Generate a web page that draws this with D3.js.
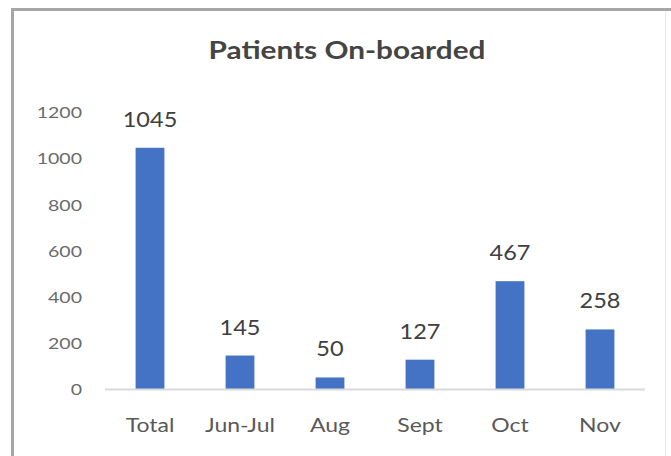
<!DOCTYPE html>
<html><head><meta charset="utf-8">
<script src="https://cdn.jsdelivr.net/npm/d3@7"></script>
<style>html,body{margin:0;padding:0;background:#fff;}</style>
</head><body>
<svg id="c" width="671" height="456"></svg>
<script>
const categories = ["Total","Jun-Jul","Aug","Sept","Oct","Nov"];
const values = [1045,145,50,127,467,258];
const yTicks = [0,200,400,600,800,1000,1200];
const title = "Patients On-boarded";

const svg = d3.select("#c");
const font = "Lato, 'Open Sans', sans-serif";
// frame
svg.append("rect").attr("x",0).attr("y",0).attr("width",671).attr("height",456).attr("fill","#fff");
svg.append("line").attr("x1",11).attr("x2",671).attr("y1",9.5).attr("y2",9.5).attr("stroke","#a6a6a6").attr("stroke-width",3);
svg.append("line").attr("x1",12.5).attr("x2",12.5).attr("y1",8).attr("y2",456).attr("stroke","#a6a6a6").attr("stroke-width",3);
svg.append("line").attr("x1",665.5).attr("x2",665.5).attr("y1",11).attr("y2",456).attr("stroke","#ececec").attr("stroke-width",1);

const x = d3.scaleBand().domain(categories).range([105,645]).paddingInner(0.68).paddingOuter(0.34);
const y = d3.scaleLinear().domain([0,1200]).range([389,112]);

// stretched text helper (the reference text is horizontally widened)
function stext(g, tx, ty, str, size, sx, anchor, color, weight) {
  return g.append("text").attr("transform",`translate(${tx},${ty}) scale(${sx},1)`)
    .attr("text-anchor",anchor).attr("font-family",font).attr("font-size",size)
    .attr("font-weight",weight||"normal").attr("fill",color).text(str);
}

stext(svg, 347, 59, title, 24, 1.24, "middle", "#444", "bold");

// y axis via d3 axis, then restyle
const ya = svg.append("g").attr("transform","translate(82,0)")
  .call(d3.axisLeft(y).tickValues(yTicks).tickFormat(d3.format("d")).tickSize(0).tickPadding(0));
ya.select(".domain").remove();
ya.selectAll(".tick text").attr("font-family",font).attr("font-size",16).attr("fill","#6b6b6b")
  .attr("dy","0.36em").attr("transform","scale(1.22,1)");

svg.selectAll("rect.bar").data(values).join("rect").attr("class","bar")
  .attr("x",(d,i)=>x(categories[i])).attr("width",x.bandwidth())
  .attr("y",d=>y(d)).attr("height",d=>y(0)-y(d)).attr("fill","#4472c4");

svg.append("line").attr("x1",105).attr("x2",645).attr("y1",y(0)+0.5).attr("y2",y(0)+0.5)
  .attr("stroke","#d9d9d9").attr("stroke-width",2);

const xa = svg.append("g").attr("transform",`translate(0,${y(0)})`)
  .call(d3.axisBottom(x).tickSize(0).tickPadding(0));
xa.select(".domain").remove();
xa.selectAll(".tick text").attr("font-family",font).attr("font-size",20).attr("fill","#595959")
  .attr("dy",0).attr("y",0).attr("transform","translate(0,43) scale(1.15,1)");

const vg = svg.append("g");
values.forEach((d,i)=>{
  stext(vg, x(categories[i])+x.bandwidth()/2, y(d)-21, d, 21, 1.12, "middle", "#404040");
});
</script>
</body></html>
